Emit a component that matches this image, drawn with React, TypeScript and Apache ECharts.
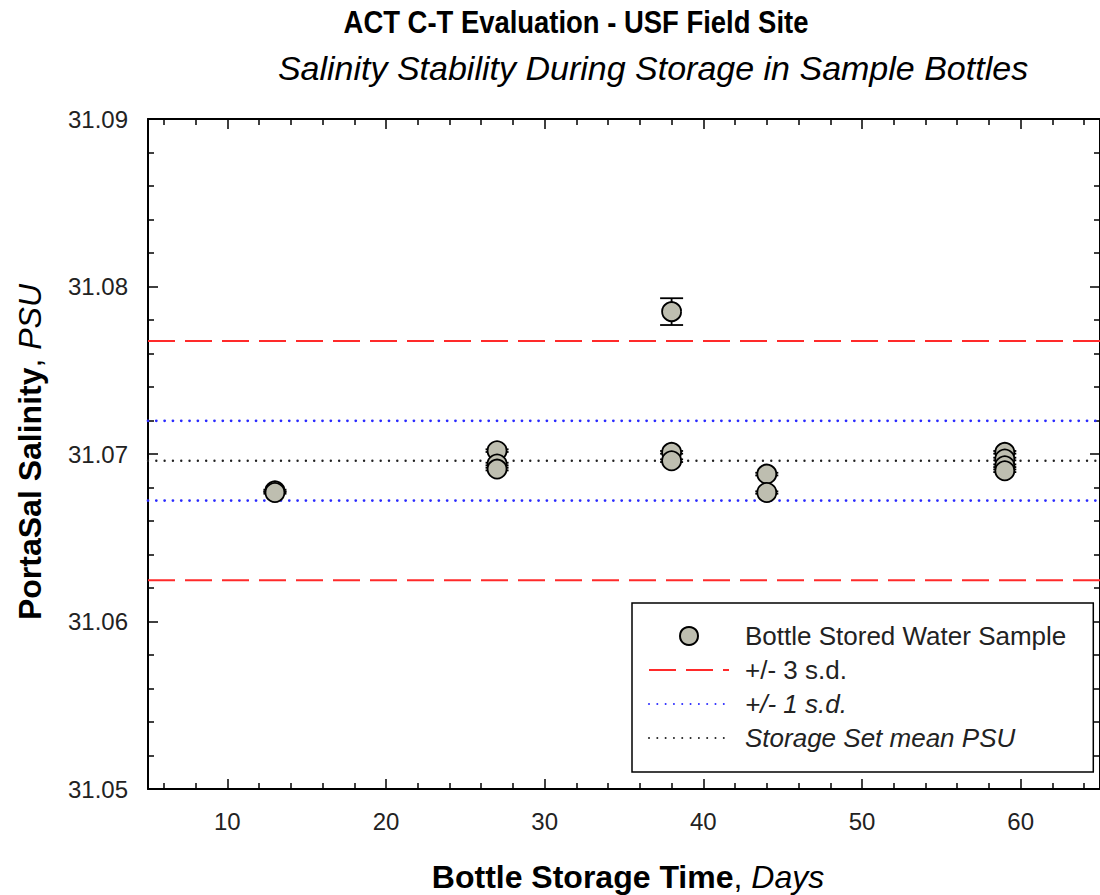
import React, { useEffect, useRef } from "react";
import * as echarts from "echarts";

// ---- Data ----
const sampleDays = [13, 13, 27, 27, 27, 38, 38, 38, 44, 44, 59, 59, 59, 59];
const salinityPSU = [
  31.0678, 31.0677, 31.0702, 31.0694, 31.0691, 31.0785, 31.0701, 31.0696,
  31.0688, 31.0677, 31.0701, 31.0697, 31.0693, 31.069,
];
const salinityErr = [
  0.00007, 0.00007, 0.00008, 0.00008, 0.00008, 0.0008, 0.00008, 0.00008,
  0.00008, 0.00007, 0.00008, 0.00008, 0.00008, 0.00008,
];
const meanPSU = [31.0696];
const plusMinus1SD = [31.07198, 31.06722];
const plusMinus3SD = [31.07674, 31.06246];

const xRange = [5, 65];
const yRange = [31.05, 31.09];
const xMajorTicks = [10, 20, 30, 40, 50, 60];
const xMinorTicks = [6, 8, 12, 14, 16, 18, 22, 24, 26, 28, 32, 34, 36, 38, 42, 44, 46, 48, 52, 54, 56, 58, 62, 64];

const sampleName = "Bottle Stored Water Sample";
const lineLegendNames = ["+/- 3 s.d.", "+/- 1 s.d.", "Storage Set mean PSU"];
const italicLegend = ["+/- 1 s.d.", "Storage Set mean PSU"];

const FONT = "'Liberation Sans', Arial, Helvetica, sans-serif";

export default function App() {
  const ref = useRef<HTMLDivElement>(null);

  useEffect(() => {
    document.body.style.margin = "0";
    if (!ref.current) return;
    const chart = echarts.init(ref.current, undefined, { renderer: "svg" });

    const axisLineStyle = { color: "#000", width: 2 };
    const tickLine = { color: "#000", width: 1.5 };

    const hLine = (name: string, v: number, color: string, width: number, dash: number[], cap: string) => ({
      name,
      type: "line",
      data: [
        [xRange[0], v],
        [xRange[1], v],
      ],
      symbol: "none",
      silent: true,
      itemStyle: { color: "rgba(0,0,0,0)", borderWidth: 0 },
      lineStyle: { color, width, type: dash, cap },
      z: 1,
    });

    const transparentIcon = { color: "rgba(0,0,0,0)", borderColor: "rgba(0,0,0,0)", borderWidth: 0 };

    const option: any = {
      animation: false,
      backgroundColor: "#fff",
      textStyle: { fontFamily: FONT },
      grid: { left: 148, top: 119, width: 958, height: 670, containLabel: false },
      xAxis: [
        {
          type: "value",
          position: "bottom",
          min: xRange[0],
          max: xRange[1],
          axisLine: { show: true, onZero: false, lineStyle: axisLineStyle },
          axisTick: { show: true, inside: true, length: 10, customValues: xMajorTicks, lineStyle: tickLine },
          axisLabel: { show: true, customValues: xMajorTicks, fontSize: 24, color: "#222", margin: 20, fontFamily: FONT },
          splitLine: { show: false },
        },
        {
          type: "value",
          position: "bottom",
          min: xRange[0],
          max: xRange[1],
          axisLine: { show: false },
          axisTick: { show: true, inside: true, length: 6, customValues: xMinorTicks, lineStyle: tickLine },
          axisLabel: { show: false },
          splitLine: { show: false },
        },
        {
          type: "value",
          position: "top",
          min: xRange[0],
          max: xRange[1],
          axisLine: { show: true, onZero: false, lineStyle: axisLineStyle },
          axisTick: { show: true, inside: true, length: 10, customValues: xMajorTicks, lineStyle: tickLine },
          axisLabel: { show: false },
          splitLine: { show: false },
        },
        {
          type: "value",
          position: "top",
          min: xRange[0],
          max: xRange[1],
          axisLine: { show: false },
          axisTick: { show: true, inside: true, length: 6, customValues: xMinorTicks, lineStyle: tickLine },
          axisLabel: { show: false },
          splitLine: { show: false },
        },
      ],
      yAxis: [
        {
          type: "value",
          position: "left",
          min: yRange[0],
          max: yRange[1],
          interval: 0.01,
          axisLine: { show: true, onZero: false, lineStyle: axisLineStyle },
          axisTick: { show: true, inside: true, length: 10, lineStyle: tickLine },
          minorTick: { show: true, splitNumber: 5, length: 6, lineStyle: tickLine },
          axisLabel: {
            fontSize: 24,
            color: "#222",
            margin: 20,
            fontFamily: FONT,
            formatter: (v: number) => v.toFixed(2),
          },
          splitLine: { show: false },
          minorSplitLine: { show: false },
        },
        {
          type: "value",
          position: "right",
          min: yRange[0],
          max: yRange[1],
          interval: 0.01,
          axisLine: { show: true, onZero: false, lineStyle: axisLineStyle },
          axisTick: { show: true, inside: true, length: 10, lineStyle: tickLine },
          minorTick: { show: true, splitNumber: 5, length: 6, lineStyle: tickLine },
          axisLabel: { show: false },
          splitLine: { show: false },
          minorSplitLine: { show: false },
        },
      ],
      legend: {
        show: true,
        orient: "vertical",
        left: 632,
        top: 603,
        padding: [20, 27, 21, 16],
        itemGap: 8,
        itemWidth: 80,
        itemHeight: 18,
        borderColor: "#000",
        borderWidth: 1.5,
        backgroundColor: "#fff",
        data: [
          { name: sampleName },
          ...lineLegendNames.map((n) => ({ name: n, itemStyle: transparentIcon })),
        ],
        formatter: (name: string) => (italicLegend.includes(name) ? `{i|${name}}` : `{n|${name}}`),
        textStyle: {
          fontSize: 26,
          color: "#222",
          fontFamily: FONT,
          padding: [0, 0, 0, 11],
          rich: {
            n: { fontSize: 26, color: "#222", fontFamily: FONT, fontStyle: "normal" },
            i: { fontSize: 26, color: "#222", fontFamily: FONT, fontStyle: "italic" },
          },
        },
      },
      graphic: [
        {
          type: "text",
          x: 576,
          y: 22,
          scaleX: 0.885,
          style: {
            text: "ACT C-T Evaluation - USF Field Site",
            font: `bold 31px ${FONT}`,
            fill: "#000",
            align: "center",
            verticalAlign: "middle",
          },
        },
        {
          type: "text",
          x: 653,
          y: 68,
          style: {
            text: "Salinity Stability During Storage in Sample Bottles",
            font: `italic 34px ${FONT}`,
            fill: "#000",
            align: "center",
            verticalAlign: "middle",
          },
        },
        {
          type: "text",
          x: 628,
          y: 877,
          style: {
            text: "{b|Bottle Storage Time}{n|, }{i|Days}",
            align: "center",
            verticalAlign: "middle",
            rich: {
              b: { fontSize: 32, fontWeight: "bold", fill: "#000", fontFamily: FONT },
              n: { fontSize: 32, fill: "#000", fontFamily: FONT },
              i: { fontSize: 32, fontStyle: "italic", fill: "#000", fontFamily: FONT },
            },
          },
        },
        {
          type: "text",
          x: 30,
          y: 452,
          rotation: Math.PI / 2,
          style: {
            text: "{b|PortaSal Salinity}{n|, }{i|PSU}",
            align: "center",
            verticalAlign: "middle",
            rich: {
              b: { fontSize: 32, fontWeight: "bold", fill: "#000", fontFamily: FONT },
              n: { fontSize: 32, fill: "#000", fontFamily: FONT },
              i: { fontSize: 32, fontStyle: "italic", fill: "#000", fontFamily: FONT },
            },
          },
        },
      ],
      series: [
        hLine("+/- 3 s.d.", plusMinus3SD[0], "#ff2a2a", 2, [27, 10], "butt"),
        hLine("+/- 3 s.d.", plusMinus3SD[1], "#ff2a2a", 2, [27, 10], "butt"),
        hLine("+/- 1 s.d.", plusMinus1SD[0], "#2a2aff", 2.8, [0.01, 8.3], "round"),
        hLine("+/- 1 s.d.", plusMinus1SD[1], "#2a2aff", 2.8, [0.01, 8.3], "round"),
        hLine("Storage Set mean PSU", meanPSU[0], "#222", 2.4, [0.01, 8.3], "round"),
        {
          name: "errors",
          type: "custom",
          xAxisIndex: 0,
          yAxisIndex: 0,
          silent: true,
          z: 2,
          encode: { x: 0, y: 1 },
          data: sampleDays.map((d, i) => [d, salinityPSU[i], salinityErr[i]]),
          renderItem: (_params: any, api: any) => {
            const x = api.value(0);
            const y = api.value(1);
            const e = api.value(2);
            const top = api.coord([x, y + e]);
            const bot = api.coord([x, y - e]);
            const hw = 11.5;
            const style = { stroke: "#000", lineWidth: 1.8 };
            return {
              type: "group",
              children: [
                { type: "line", shape: { x1: top[0], y1: top[1], x2: bot[0], y2: bot[1] }, style },
                { type: "line", shape: { x1: top[0] - hw, y1: top[1], x2: top[0] + hw, y2: top[1] }, style },
                { type: "line", shape: { x1: bot[0] - hw, y1: bot[1], x2: bot[0] + hw, y2: bot[1] }, style },
              ],
            };
          },
        },
        {
          name: sampleName,
          type: "scatter",
          xAxisIndex: 0,
          yAxisIndex: 0,
          symbol: "circle",
          symbolSize: 19,
          z: 3,
          data: sampleDays.map((d, i) => [d, salinityPSU[i]]),
          itemStyle: { color: "#bebeb0", borderColor: "#000", borderWidth: 1.8, opacity: 1 },
        },
      ],
    };

    chart.setOption(option);
    return () => chart.dispose();
  }, []);

  return <div ref={ref} style={{ width: 1100, height: 895 }} />;
}
